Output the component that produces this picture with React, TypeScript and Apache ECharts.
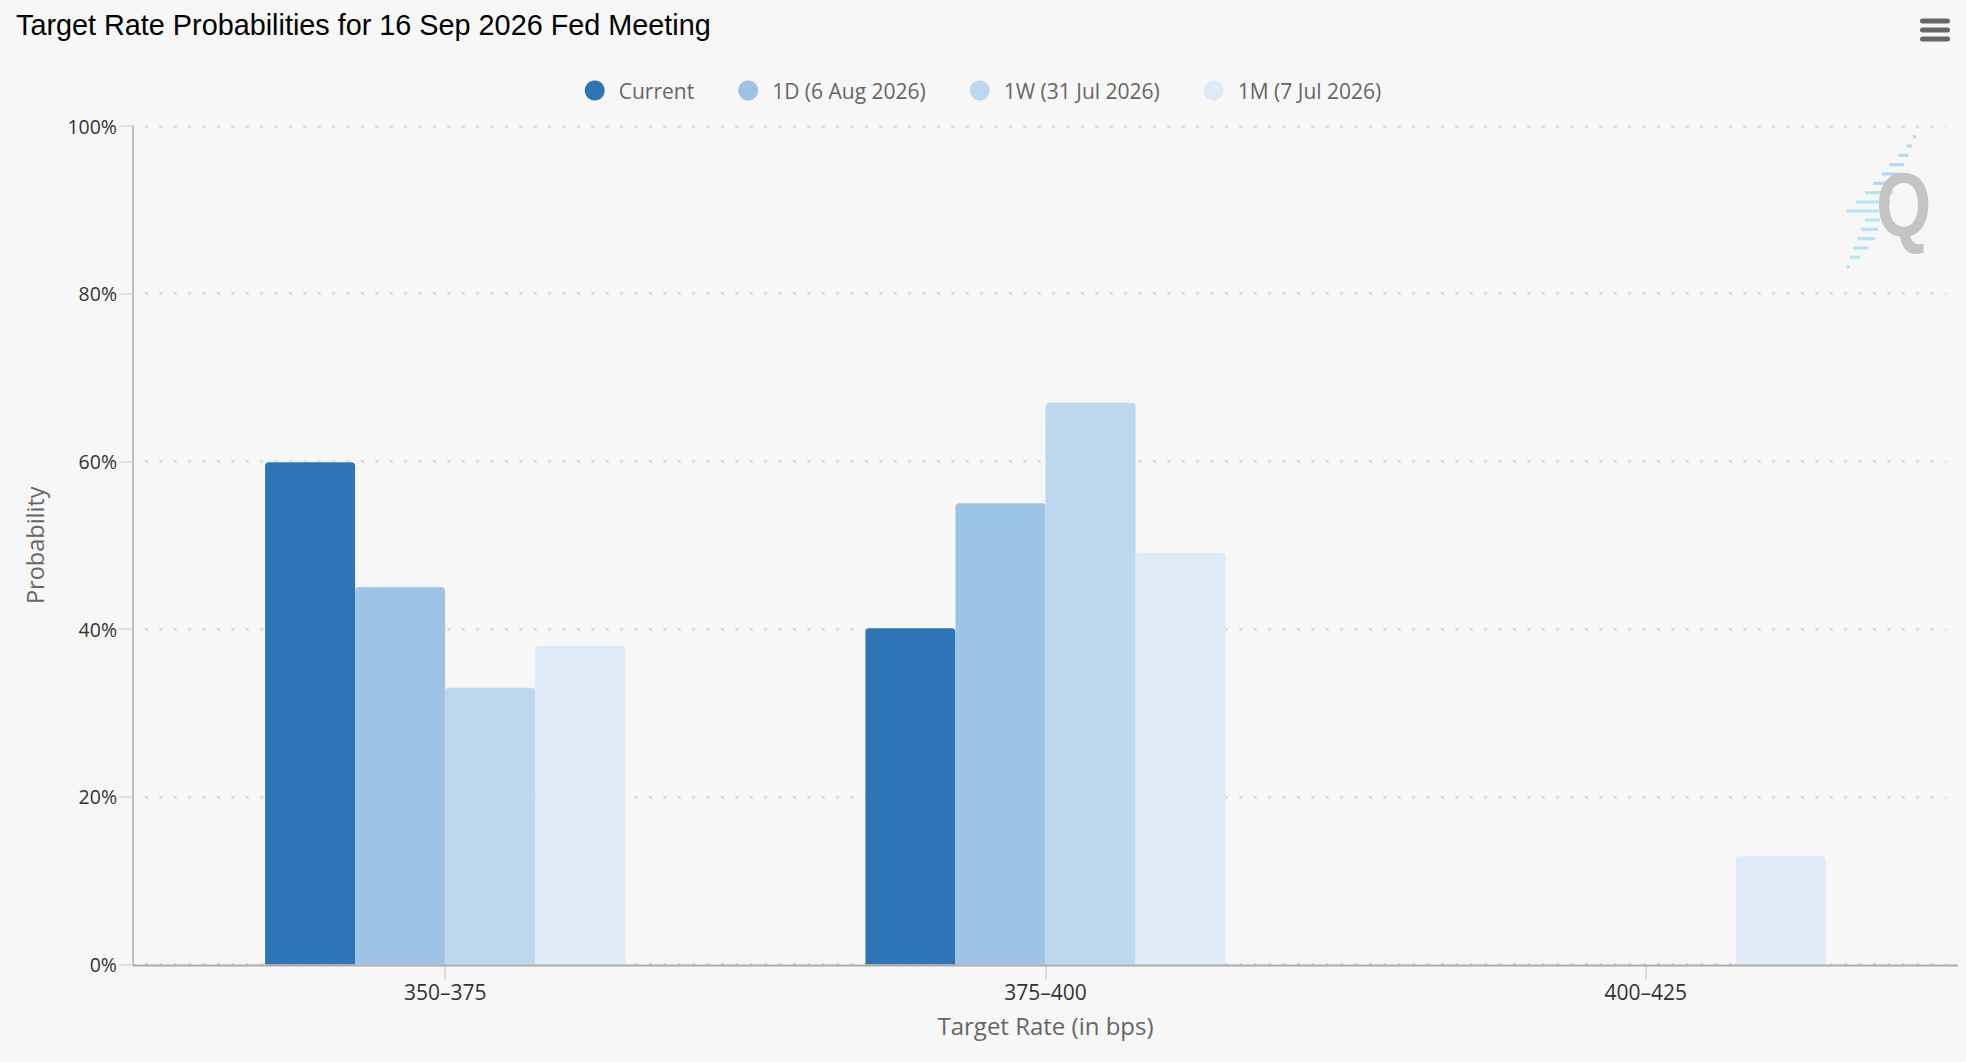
import React, { useEffect, useRef } from "react";
import * as echarts from "echarts";

const TITLE = "Target Rate Probabilities for 16 Sep 2026 Fed Meeting";
const CATEGORIES = ["350–375", "375–400", "400–425"];
const SERIES_NAMES = ["Current", "1D (6 Aug 2026)", "1W (31 Jul 2026)", "1M (7 Jul 2026)"];
const CURRENT = [59.9, 40.1, 0];
const ONE_DAY = [45.0, 55.0, 0];
const ONE_WEEK = [33.0, 67.0, 0];
const ONE_MONTH = [38.0, 49.1, 12.9];
const SERIES_VALUES = [CURRENT, ONE_DAY, ONE_WEEK, ONE_MONTH];
const COLORS = ["#2E75B6", "#9DC3E6", "#BDD7EE", "#DEEBF7"];
const Y_MIN = 0;
const Y_MAX = 100;
const Y_STEP = 20;
const X_NAME = "Target Rate (in bps)";
const Y_NAME = "Probability";

// watermark logo stripes: [y, xStart, xEnd]
const LOGO_STRIPES: [number, number, number][] = [
  [136.7, 1913, 1916],
  [146, 1906.7, 1911.7],
  [155.3, 1898.3, 1908.3],
  [164.7, 1889.3, 1904],
  [174, 1881.7, 1900],
  [183.3, 1873.3, 1896.7],
  [192.7, 1865, 1893.3],
  [202, 1856, 1890],
  [211, 1846.7, 1878.3],
  [220, 1865, 1880],
  [229.3, 1861, 1878.3],
  [238.7, 1857.3, 1875],
  [248, 1853.3, 1868.3],
  [257.3, 1850, 1860],
  [266.7, 1846.7, 1850],
];

const W = 1966;
const H = 1062;
const GRID_LEFT = 145;
const GRID_RIGHT = 20;
const GRID_TOP = 126;
const GRID_BOTTOM = 97.5;
const AXIS_PAD = 12;
const FONT = "'Open Sans', 'Noto Sans', sans-serif";

function buildLogo() {
  const items: any[] = LOGO_STRIPES.map(([y, x1, x2], k) => ({
    type: "line",
    shape: { x1, y1: y, x2, y2: y },
    style: { stroke: k < 6 ? "#b4d8f4" : "#b0e6f6", lineWidth: 3.2 },
    silent: true,
    z: 1,
  }));
  items.push({
    type: "text",
    x: 1876,
    y: 160,
    scaleX: 0.79,
    style: {
      text: "Q",
      font: "bold 90px 'Liberation Sans', Arial, sans-serif",
      fill: "#c4c4c4",
      textVerticalAlign: "top",
    },
    silent: true,
    z: 2,
  });
  return items;
}

export default function App() {
  const ref = useRef<HTMLDivElement>(null);
  useEffect(() => {
    if (!ref.current) return;
    const chart = echarts.init(ref.current, null, { renderer: "svg" });
    const zeroY = H - GRID_BOTTOM;
    const option: any = {
      animation: false,
      backgroundColor: "#f7f7f7",
      color: COLORS,
      title: {
        text: TITLE,
        left: 11,
        top: 5,
        textStyle: {
          fontFamily: "'Liberation Sans', Arial, sans-serif",
          fontSize: 28.8,
          fontWeight: "normal",
          color: "#000",
        },
      },
      legend: {
        top: 75,
        left: "center",
        icon: "circle",
        itemWidth: 38,
        itemHeight: 20,
        itemGap: 44,
        data: SERIES_NAMES,
        textStyle: { fontFamily: FONT, fontSize: 21, color: "#666" },
      },
      grid: { left: GRID_LEFT, right: GRID_RIGHT, top: GRID_TOP, bottom: GRID_BOTTOM },
      xAxis: {
        type: "category",
        data: CATEGORIES,
        axisLine: { show: false },
        axisTick: { show: true, alignWithLabel: true, length: 16, lineStyle: { color: "#d4d4d4", width: 1.5 } },
        axisLabel: { margin: 17, fontFamily: FONT, fontSize: 21, color: "#333" },
        splitLine: { show: false },
        name: X_NAME,
        nameLocation: "middle",
        nameGap: 49,
        nameTextStyle: { fontFamily: FONT, fontSize: 24, color: "#666" },
      },
      yAxis: {
        type: "value",
        min: Y_MIN,
        max: Y_MAX,
        interval: Y_STEP,
        offset: AXIS_PAD,
        axisLine: { show: true, lineStyle: { color: "#aaaaaa", width: 1.5 } },
        axisTick: { show: true, length: 14, lineStyle: { color: "#d8d8d8", width: 1.5 } },
        axisLabel: { formatter: "{value}%", margin: 16, fontFamily: FONT, fontSize: 19.5, color: "#333" },
        splitLine: { show: true, lineStyle: { color: "#dcdcdc", width: 3, type: [3, 11.4] } },
        name: Y_NAME,
        nameLocation: "middle",
        nameGap: 86,
        nameTextStyle: { fontFamily: FONT, fontSize: 23.5, color: "#666" },
      },
      series: SERIES_NAMES.map((name, i) => ({
        name,
        type: "bar",
        data: SERIES_VALUES[i],
        barGap: "0%",
        barCategoryGap: "40%",
        itemStyle: { color: COLORS[i], borderRadius: [4, 4, 0, 0] },
      })),
      graphic: [
        {
          type: "line",
          shape: { x1: GRID_LEFT - AXIS_PAD, y1: zeroY + 1, x2: W - GRID_RIGHT + AXIS_PAD, y2: zeroY + 1 },
          style: { stroke: "#aaaaaa", lineWidth: 2 },
          z: 100,
        },
        { type: "rect", shape: { x: 1920, y: 18.5, width: 30, height: 5, r: 2.5 }, style: { fill: "#666" } },
        { type: "rect", shape: { x: 1920, y: 27.5, width: 30, height: 5, r: 2.5 }, style: { fill: "#666" } },
        { type: "rect", shape: { x: 1920, y: 36.5, width: 30, height: 5, r: 2.5 }, style: { fill: "#666" } },
        ...buildLogo(),
      ],
    };
    chart.setOption(option);
    return () => chart.dispose();
  }, []);
  return (
    <div
      ref={ref}
      style={{ position: "fixed", left: 0, top: 0, width: W, height: H, background: "#f7f7f7" }}
    />
  );
}
